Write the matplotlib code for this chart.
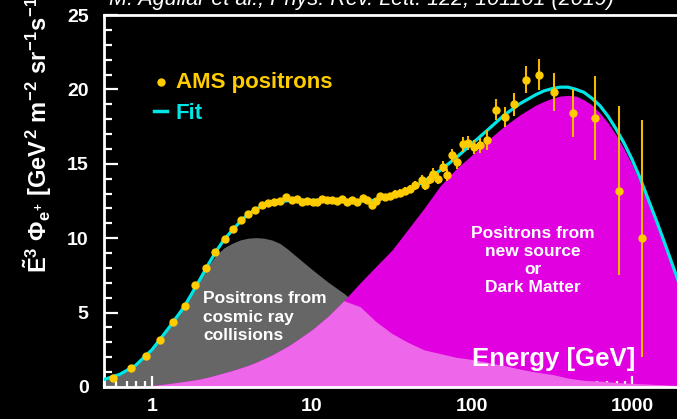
import numpy as np
import matplotlib
matplotlib.use("Agg")
import matplotlib.pyplot as plt
from matplotlib.ticker import MultipleLocator, LogLocator, NullFormatter
from matplotlib.lines import Line2D

# AMS positron points
energy = [0.573, 0.739, 0.921, 1.12, 1.35, 1.61, 1.87, 2.18, 2.49, 2.86,
          3.21, 3.58, 3.96, 4.38, 4.84, 5.33, 5.79, 6.31, 6.88, 7.47,
          8.02, 8.62, 9.35, 10.1, 10.7, 11.5, 12.4, 13.3, 14.3, 15.3,
          16.5, 17.7, 19.0, 20.9, 22.2, 23.6, 25.1, 26.6, 28.6, 30.7,
          33.0, 35.5, 38.0, 40.8, 44.0, 48.4, 50.8, 54.6, 57.3, 61.6,
          65.6, 70.2, 75.4, 81.0, 87.4, 94.8, 102.9, 113, 124.7, 140.6,
          160, 184, 216, 262, 327, 427, 588, 830, 1161]
flux = [0.62, 1.25, 2.1, 3.17, 4.4, 5.44, 6.84, 7.99, 9.1, 9.93,
        10.6, 11.2, 11.64, 11.9, 12.2, 12.35, 12.42, 12.52, 12.75, 12.6,
        12.66, 12.45, 12.5, 12.45, 12.45, 12.65, 12.6, 12.55, 12.5, 12.65,
        12.45, 12.55, 12.45, 12.72, 12.55, 12.2, 12.5, 12.85, 12.78, 12.82,
        13.0, 13.05, 13.2, 13.3, 13.55, 13.9, 13.55, 14.0, 14.34, 14.0,
        14.8, 14.27, 15.57, 15.12, 16.3, 16.4, 16.13, 16.24, 16.62, 18.64,
        18.14, 19.0, 20.65, 21.0, 19.85, 18.4, 18.07, 13.2, 9.98]
flux_err = [0.05, 0.05, 0.05, 0.05, 0.05, 0.05, 0.05, 0.05, 0.05, 0.05,
            0.06, 0.06, 0.06, 0.06, 0.06, 0.06, 0.06, 0.06, 0.06, 0.06,
            0.1, 0.1, 0.1, 0.1, 0.1, 0.1, 0.1, 0.1, 0.1, 0.1,
            0.15, 0.15, 0.15, 0.18, 0.18, 0.18, 0.2, 0.2, 0.22, 0.22,
            0.24, 0.25, 0.27, 0.28, 0.3, 0.32, 0.32, 0.34, 0.35, 0.37,
            0.38, 0.4, 0.42, 0.45, 0.48, 0.5, 0.45, 0.5, 0.67, 0.69,
            0.69, 0.77, 0.92, 1.07, 1.27, 1.6, 2.8, 5.66, 7.97]

# model curves (finer where they bend most)
curve_energy = [0.5, 0.63, 0.79, 1.0, 1.26, 1.58, 1.78, 2.0, 2.24, 2.51,
                2.82, 3.16, 3.55, 3.98, 4.47, 5.01, 5.62, 6.31, 7.08, 7.94,
                10, 12.6, 15.8, 20, 25.1, 31.6, 39.8, 50.1, 63.1, 79.4,
                100, 126, 158, 200, 251, 282, 316, 355, 398, 447,
                501, 562, 631, 708, 794, 891, 1000, 1122, 1259, 1413,
                1585, 1778, 1995]
fit_curve = [0.5, 0.85, 1.45, 2.5, 3.9, 5.35, 6.3, 7.25, 8.2, 9.1,
             9.9, 10.5, 11.1, 11.6, 11.95, 12.2, 12.35, 12.45, 12.52, 12.55,
             12.55, 12.5, 12.5, 12.5, 12.55, 12.85, 13.25, 13.8, 14.55, 15.4,
             16.35, 17.3, 18.25, 19.05, 19.65, 19.9, 20.05, 20.15, 20.15, 20.0,
             19.8, 19.4, 18.9, 18.2, 17.35, 16.4, 15.3, 14.05, 12.65, 11.25,
             9.8, 8.3, 6.8]
diffuse_curve = [0.45, 0.8, 1.4, 2.45, 3.85, 5.3, 6.25, 7.2, 8.1, 8.85,
                 9.35, 9.65, 9.88, 10.0, 10.04, 10.0, 9.88, 9.65, 9.25, 8.8,
                 7.9, 7.05, 6.3, 5.4, 4.4, 3.6, 3.0, 2.5, 2.25, 2.0,
                 1.85, 1.65, 1.45, 1.2, 1.0, 0.92, 0.85, 0.72, 0.6, 0.52,
                 0.45, 0.42, 0.4, 0.35, 0.3, 0.27, 0.25, 0.22, 0.2, 0.17,
                 0.15, 0.12, 0.1]
source_curve = [0, 0, 0.02, 0.1, 0.22, 0.37, 0.45, 0.54, 0.66, 0.8,
                0.95, 1.1, 1.27, 1.45, 1.66, 1.9, 2.15, 2.45, 2.75, 3.1,
                3.85, 4.75, 5.8, 7.0, 8.1, 9.2, 10.6, 12.0, 13.5, 14.65,
                15.6, 16.6, 17.5, 18.3, 18.95, 19.2, 19.4, 19.55, 19.6, 19.55,
                19.3, 18.95, 18.4, 17.75, 16.95, 16.0, 14.95, 13.75, 12.4, 11.0,
                9.55, 8.05, 6.6]

x_ticks = [1, 10, 100, 1000]
x_tick_labels = ["1", "10", "100", "1000"]
y_ticks = [0, 5, 10, 15, 20, 25]

W, H = 677, 419

def px(x, y):
    # pixel position -> figure fraction
    return x / W, 1 - y / H

plt.rcParams["font.family"] = ["Liberation Sans", "DejaVu Sans"]
plt.rcParams["font.weight"] = "bold"
plt.rcParams["mathtext.fontset"] = "custom"
plt.rcParams["mathtext.rm"] = "Liberation Sans:bold"
plt.rcParams["mathtext.bf"] = "Liberation Sans:bold"
plt.rcParams["mathtext.it"] = "Liberation Sans:bold"
plt.rcParams["mathtext.sf"] = "Liberation Sans:bold"

cyan = "#00e6e6"
gold = "#ffcc00"

fig = plt.figure(figsize=(W / 100, H / 100), dpi=100, facecolor="black")
ax = fig.add_axes([0.1533, 0.0764, 0.8514, 0.8878])
ax.set_facecolor("black")
ax.set_xscale("log")
ax.set_xlim(0.5, 2000)
ax.set_ylim(0, 25)

overlap = np.minimum(diffuse_curve, source_curve)
ax.fill_between(curve_energy, 0, diffuse_curve, color="#666666", lw=0, zorder=1)
ax.fill_between(curve_energy, 0, source_curve, color="#e000e0", lw=0, zorder=1)
ax.fill_between(curve_energy, 0, overlap, color="#ee66ea", lw=0, zorder=2)
ax.plot(curve_energy, fit_curve, color=cyan, lw=2.3, zorder=3)
ax.errorbar(energy, flux, yerr=flux_err, fmt="o", ms=5, color=gold, mec=gold,
            ecolor="#f5b800", elinewidth=1.5, capsize=0, zorder=4)

for side in ["left", "bottom", "top"]:
    ax.spines[side].set_color("white")
    ax.spines[side].set_linewidth(2)
ax.spines["right"].set_visible(False)

ax.set_xticks(x_ticks)
ax.set_xticklabels(x_tick_labels)
ax.xaxis.set_minor_locator(LogLocator(base=10, subs=range(2, 10), numticks=20))
ax.xaxis.set_minor_formatter(NullFormatter())
ax.set_yticks(y_ticks)
ax.yaxis.set_minor_locator(MultipleLocator(1))

ax.tick_params(which="both", direction="in", colors="white", width=1.6, labelsize=14)
ax.tick_params(axis="x", which="major", length=8, pad=8)
ax.tick_params(axis="x", which="minor", length=4.5)
ax.tick_params(axis="y", which="major", length=10, pad=11)
ax.tick_params(axis="y", which="minor", length=6)

# y title, ROOT style at the top of the axis
ylabel = r"$\tilde{E}^{3}\ \Phi_{e^{+}}\ [GeV^{2}\ m^{-2}\ sr^{-1}s^{-1}]$"
fig.text(*px(38, -12), ylabel, rotation=90, ha="center", va="top",
         color="white", fontsize=17)

fig.text(*px(109, 5), "M. Aguilar et al., Phys. Rev. Lett. 122, 101101 (2019)",
         color="white", fontsize=15.6, style="italic", weight="normal",
         va="baseline", ha="left")

# legend
fig.add_artist(Line2D([px(161, 82)[0]], [px(161, 82)[1]], marker="o", ms=5,
                      color=gold, transform=fig.transFigure))
fig.text(*px(176, 88), "AMS positrons", color=gold, fontsize=16, va="baseline")
fig.add_artist(Line2D([px(154, 0)[0], px(167, 0)[0]], [px(0, 111)[1]] * 2,
                      color=cyan, lw=2.5, transform=fig.transFigure))
fig.text(*px(176, 119), "Fit", color=cyan, fontsize=16, va="baseline")

# multi-line texts: y is the baseline of the last line
fig.text(*px(203, 340), "Positrons from\ncosmic ray\ncollisions", color="white",
         fontsize=12.5, va="baseline", ha="left", linespacing=1.28)
fig.text(*px(533, 292), "Positrons from\nnew source\nor\nDark Matter", color="white",
         fontsize=12.5, va="baseline", ha="center", multialignment="center",
         linespacing=1.25)
fig.text(*px(635, 366), "Energy [GeV]", color="white", fontsize=18.5,
         va="baseline", ha="right")

fig.savefig("out.png", dpi=100, facecolor="black")
